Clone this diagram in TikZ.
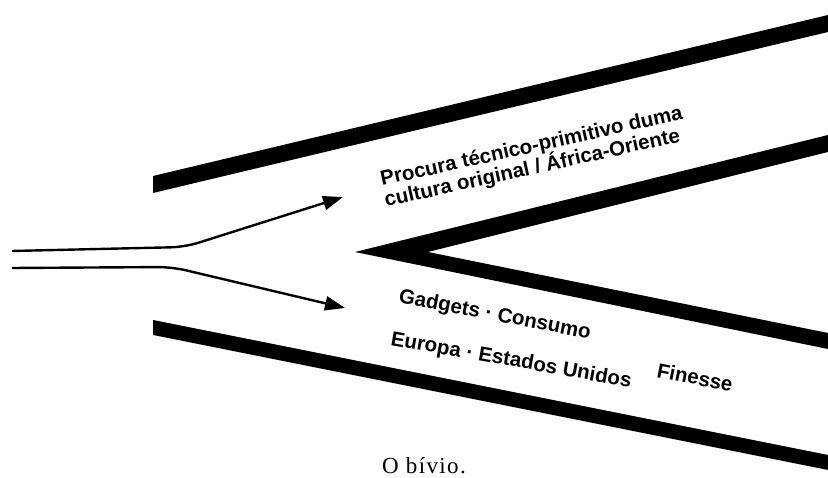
\documentclass[tikz,border=0pt]{standalone}
\usepackage{fontspec}
\setmainfont{Liberation Serif}
\newfontfamily\labfont{Liberation Sans}
\usetikzlibrary{arrows.meta}
\begin{document}
\begin{tikzpicture}[x=1pt,y=-1pt,
  band/.style={fill=black},
  lab/.style={font=\labfont\bfseries\fontsize{20.5}{20.5}\selectfont, anchor=base west, inner sep=0pt},
  conn/.style={line width=2.4pt, rounded corners=14pt, -{Triangle[length=20pt,width=14pt]}}]
\useasboundingbox (0,0) rectangle (828,478);
\fill[white] (0,0) rectangle (828,478);
% bands
\fill[band] (153,176) -- (828,15) -- (828,32) -- (153,193) -- cycle;
\fill[band] (355,252) -- (828,135) -- (828,152) -- (428,252) -- (828,333) -- (828,349) -- cycle;
\fill[band] (153,320) -- (828,455) -- (828,470) -- (153,335) -- cycle;
% connectors
\coordinate (s1) at (12,251);
\coordinate (k1) at (185,247);
\coordinate (t1) at (343,197);
\coordinate (s2) at (12,268);
\coordinate (k2) at (172,267);
\coordinate (t2) at (345,308);
\draw[conn] (s1) -- (k1) -- (t1);
\draw[conn] (s2) -- (k2) -- (t2);
% labels
\node[lab, rotate=12.5] (p1) at (382,186) {Procura técnico-primitivo duma};
\node[lab, rotate=12.5] (p2) at (386,207) {cultura original / África-Oriente};
\node[lab, rotate=-11] (g) at (398,302) {Gadgets · Consumo};
\node[lab, rotate=-10] (e) at (390,345) {Europa · Estados Unidos};
\node[lab, rotate=-11] (f) at (656,377) {Finesse};
\node[font=\fontsize{23}{23}\selectfont\addfontfeature{LetterSpace=6}, anchor=base, inner sep=0pt] (cap) at (424,473) {O bívio.};
\end{tikzpicture}
\end{document}
